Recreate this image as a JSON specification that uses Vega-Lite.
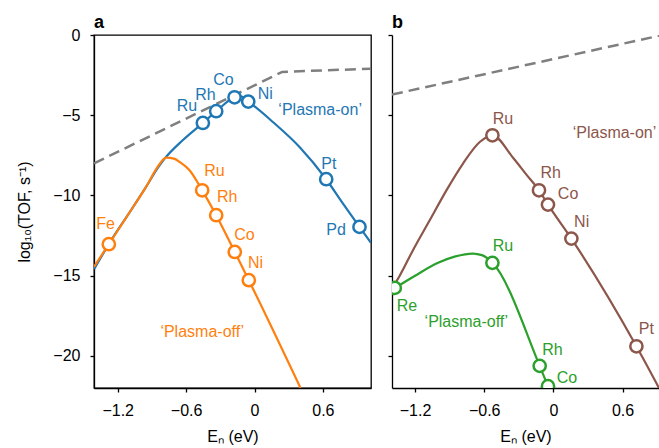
{
  "$schema": "https://vega.github.io/schema/vega-lite/v6.json",
  "padding": {"left": 16, "top": 13, "right": 0, "bottom": 0},
  "background": "white",
  "spacing": 21,
  "bounds": "flush",
  "resolve": {"scale": {"x": "independent", "y": "independent"}},
  "config": {
    "view": {"stroke": "black", "strokeWidth": 1.3},
    "font": "Liberation Sans",
    "axis": {"domainColor": "#000", "domainWidth": 1.3, "tickColor": "#000", "tickWidth": 1.3, "tickSize": 4,
      "labelFont": "Liberation Sans", "labelFontSize": 16, "labelColor": "#000", "labelPadding": 10,
      "titleFont": "Liberation Sans", "titleFontSize": 16, "titleFontWeight": "normal", "titleColor": "#000",
      "grid": false, "labelFlush": false, "labelOverlap": false}
  },
  "datasets": {
    "curves": [
      {"k": "lim_a", "x": -1.408, "y": -8.0}, {"k": "lim_a", "x": 0.243, "y": -2.3}, {"k": "lim_a", "x": 1.022, "y": -2.1},
      {"k": "lim_b", "x": -1.40, "y": -3.71}, {"k": "lim_b", "x": 0.916, "y": -0.05},
      {"k": "on_a", "x": -1.408, "y": -14.6}, {"k": "on_a", "x": -1.24, "y": -12.6}, {"k": "on_a", "x": -1.10, "y": -11.1},
      {"k": "on_a", "x": -0.95, "y": -9.45}, {"k": "on_a", "x": -0.85, "y": -8.3}, {"k": "on_a", "x": -0.79, "y": -7.72},
      {"k": "on_a", "x": -0.63, "y": -6.56}, {"k": "on_a", "x": -0.453, "y": -5.48}, {"k": "on_a", "x": -0.336, "y": -4.75},
      {"k": "on_a", "x": -0.175, "y": -3.88}, {"k": "on_a", "x": -0.13, "y": -3.8}, {"k": "on_a", "x": -0.055, "y": -4.15},
      {"k": "on_a", "x": 0.161, "y": -5.42}, {"k": "on_a", "x": 0.395, "y": -6.98}, {"k": "on_a", "x": 0.629, "y": -8.99},
      {"k": "on_a", "x": 0.775, "y": -10.5}, {"k": "on_a", "x": 0.921, "y": -11.96}, {"k": "on_a", "x": 1.022, "y": -12.95},
      {"k": "off_a", "x": -1.408, "y": -14.45}, {"k": "off_a", "x": -1.278, "y": -13.04}, {"k": "off_a", "x": -1.10, "y": -11.1},
      {"k": "off_a", "x": -0.95, "y": -9.45}, {"k": "off_a", "x": -0.85, "y": -8.22}, {"k": "off_a", "x": -0.775, "y": -7.64},
      {"k": "off_a", "x": -0.70, "y": -7.72}, {"k": "off_a", "x": -0.658, "y": -7.91}, {"k": "off_a", "x": -0.57, "y": -8.43},
      {"k": "off_a", "x": -0.459, "y": -9.68}, {"k": "off_a", "x": -0.336, "y": -11.23}, {"k": "off_a", "x": -0.173, "y": -13.52},
      {"k": "off_a", "x": -0.05, "y": -15.28}, {"k": "off_a", "x": 0.404, "y": -22.0},
      {"k": "on_b", "x": -1.40, "y": -15.8}, {"k": "on_b", "x": -1.333, "y": -15.0}, {"k": "on_b", "x": -1.218, "y": -13.41},
      {"k": "on_b", "x": -1.073, "y": -11.55}, {"k": "on_b", "x": -0.928, "y": -9.68}, {"k": "on_b", "x": -0.784, "y": -8.01},
      {"k": "on_b", "x": -0.639, "y": -6.67}, {"k": "on_b", "x": -0.529, "y": -6.25}, {"k": "on_b", "x": -0.35, "y": -7.65},
      {"k": "on_b", "x": -0.234, "y": -8.7}, {"k": "on_b", "x": -0.125, "y": -9.68}, {"k": "on_b", "x": -0.047, "y": -10.57},
      {"k": "on_b", "x": 0.156, "y": -12.69}, {"k": "on_b", "x": 0.72, "y": -19.4}, {"k": "on_b", "x": 0.916, "y": -22.0},
      {"k": "off_b", "x": -1.40, "y": -15.85}, {"k": "off_b", "x": -1.376, "y": -15.76}, {"k": "off_b", "x": -1.2, "y": -15.0},
      {"k": "off_b", "x": -1.0, "y": -14.2}, {"k": "off_b", "x": -0.85, "y": -13.8}, {"k": "off_b", "x": -0.70, "y": -13.62},
      {"k": "off_b", "x": -0.62, "y": -13.72}, {"k": "off_b", "x": -0.529, "y": -14.2}, {"k": "off_b", "x": -0.119, "y": -20.62},
      {"k": "off_b", "x": -0.047, "y": -21.89}, {"k": "off_b", "x": 0.0, "y": -22.7}
    ],
    "points": [
      {"k": "on_a", "el": "Ru", "x": -0.453, "y": -5.48}, {"k": "on_a", "el": "Rh", "x": -0.336, "y": -4.75},
      {"k": "on_a", "el": "Co", "x": -0.175, "y": -3.88}, {"k": "on_a", "el": "Ni", "x": -0.055, "y": -4.15},
      {"k": "on_a", "el": "Pt", "x": 0.629, "y": -8.99}, {"k": "on_a", "el": "Pd", "x": 0.921, "y": -11.96},
      {"k": "off_a", "el": "Fe", "x": -1.278, "y": -13.04}, {"k": "off_a", "el": "Ru", "x": -0.459, "y": -9.68},
      {"k": "off_a", "el": "Rh", "x": -0.336, "y": -11.23}, {"k": "off_a", "el": "Co", "x": -0.173, "y": -13.52},
      {"k": "off_a", "el": "Ni", "x": -0.05, "y": -15.28},
      {"k": "on_b", "el": "Ru", "x": -0.529, "y": -6.25}, {"k": "on_b", "el": "Rh", "x": -0.125, "y": -9.68},
      {"k": "on_b", "el": "Co", "x": -0.047, "y": -10.57}, {"k": "on_b", "el": "Ni", "x": 0.156, "y": -12.69},
      {"k": "on_b", "el": "Pt", "x": 0.72, "y": -19.4},
      {"k": "off_b", "el": "Re", "x": -1.376, "y": -15.76}, {"k": "off_b", "el": "Ru", "x": -0.529, "y": -14.2},
      {"k": "off_b", "el": "Rh", "x": -0.119, "y": -20.62}, {"k": "off_b", "el": "Co", "x": -0.047, "y": -21.89}
    ],
    "labels": [
      {"k": "on_a", "t": "Ru", "x": -0.593, "y": -4.44}, {"k": "on_a", "t": "Rh", "x": -0.43, "y": -3.71},
      {"k": "on_a", "t": "Co", "x": -0.272, "y": -2.82}, {"k": "on_a", "t": "Ni", "x": 0.094, "y": -3.69},
      {"k": "on_a", "t": "‘Plasma-on’", "x": 0.576, "y": -4.69}, {"k": "on_a", "t": "Pt", "x": 0.652, "y": -8.07},
      {"k": "on_a", "t": "Pd", "x": 0.716, "y": -12.13},
      {"k": "off_a", "t": "Fe", "x": -1.307, "y": -11.75}, {"k": "off_a", "t": "Ru", "x": -0.351, "y": -8.47},
      {"k": "off_a", "t": "Rh", "x": -0.24, "y": -10.09}, {"k": "off_a", "t": "Co", "x": -0.088, "y": -12.48},
      {"k": "off_a", "t": "Ni", "x": 0.009, "y": -14.18}, {"k": "off_a", "t": "‘Plasma-off’", "x": -0.459, "y": -18.54},
      {"k": "on_b", "t": "Ru", "x": -0.437, "y": -5.21}, {"k": "on_b", "t": "Rh", "x": -0.023, "y": -8.6},
      {"k": "on_b", "t": "Co", "x": 0.127, "y": -9.94}, {"k": "on_b", "t": "Ni", "x": 0.245, "y": -11.65},
      {"k": "on_b", "t": "Pt", "x": 0.807, "y": -18.3}, {"k": "on_b", "t": "‘Plasma-on’", "x": 0.53, "y": -6.1},
      {"k": "off_b", "t": "Ru", "x": -0.437, "y": -13.17}, {"k": "off_b", "t": "Re", "x": -1.27, "y": -16.9},
      {"k": "off_b", "t": "‘Plasma-off’", "x": -0.755, "y": -17.88}, {"k": "off_b", "t": "Rh", "x": -0.009, "y": -19.64},
      {"k": "off_b", "t": "Co", "x": 0.118, "y": -21.37}
    ],
    "tags": [{"p": "a", "t": "a"}, {"p": "b", "t": "b"}]
  },
  "hconcat": [
    {
      "width": 277, "height": 353,
      "layer": [
        {"data": {"name": "curves"}, "transform": [{"filter": "datum.k === 'lim_a'"}],
          "mark": {"type": "line", "strokeDash": [11, 6], "strokeWidth": 2.5, "color": "#7f7f7f", "clip": true},
          "encoding": {
            "x": {"field": "x", "type": "quantitative", "scale": {"domain": [-1.408, 1.022], "nice": false, "zero": false},
              "axis": {"values": [-1.2, -0.6, 0, 0.6], "labelExpr": "datum.value === 0 ? '0' : format(datum.value, '.1f')", "title": "Eₙ (eV)", "titlePadding": 10}},
            "y": {"field": "y", "type": "quantitative", "scale": {"domain": [-22, 0], "nice": false, "zero": false},
              "axis": {"values": [0, -5, -10, -15, -20], "format": "d", "title": "log₁₀(TOF, s⁻¹)", "titlePadding": 20}}}},
        {"data": {"name": "curves"}, "transform": [{"filter": "datum.k === 'on_a'"}],
          "mark": {"type": "line", "strokeWidth": 2.2, "color": "#1f77b4", "interpolate": "monotone", "clip": true},
          "encoding": {"x": {"field": "x", "type": "quantitative"}, "y": {"field": "y", "type": "quantitative"}}},
        {"data": {"name": "curves"}, "transform": [{"filter": "datum.k === 'off_a'"}],
          "mark": {"type": "line", "strokeWidth": 2.2, "color": "#ff7f0e", "interpolate": "monotone", "clip": true},
          "encoding": {"x": {"field": "x", "type": "quantitative"}, "y": {"field": "y", "type": "quantitative"}}},
        {"data": {"name": "points"}, "transform": [{"filter": "datum.k === 'on_a' || datum.k === 'off_a'"}],
          "mark": {"type": "point", "shape": "circle", "filled": false, "fill": "white", "fillOpacity": 1, "opacity": 1, "size": 150, "strokeWidth": 2.5, "clip": true},
          "encoding": {"x": {"field": "x", "type": "quantitative"}, "y": {"field": "y", "type": "quantitative"},
            "color": {"field": "k", "type": "nominal", "legend": null,
            "scale": {"domain": ["on_a", "off_a", "on_b", "off_b"], "range": ["#1f77b4", "#ff7f0e", "#8c564b", "#2ca02c"]}}}},
        {"data": {"name": "labels"}, "transform": [{"filter": "datum.k === 'on_a' || datum.k === 'off_a'"}],
          "mark": {"type": "text", "font": "Liberation Sans", "fontSize": 16, "align": "center", "baseline": "middle", "clip": true},
          "encoding": {"x": {"field": "x", "type": "quantitative"}, "y": {"field": "y", "type": "quantitative"},
            "text": {"field": "t"}, "color": {"field": "k", "type": "nominal", "legend": null,
            "scale": {"domain": ["on_a", "off_a", "on_b", "off_b"], "range": ["#1f77b4", "#ff7f0e", "#8c564b", "#2ca02c"]}}}},
        {"data": {"name": "tags"}, "transform": [{"filter": "datum.p === 'a'"}],
          "mark": {"type": "text", "font": "Liberation Sans", "fontSize": 18, "fontWeight": "bold", "align": "left", "baseline": "alphabetic", "dy": -7, "color": "#000"},
          "encoding": {"text": {"field": "t"}, "x": {"datum": -1.408, "type": "quantitative"}, "y": {"datum": 0, "type": "quantitative"}}}
      ]
    },
    {
      "width": 267, "height": 353,
      "view": {"stroke": null},
      "layer": [
        {"mark": {"type": "rule", "color": "#000", "strokeWidth": 1.3},
          "encoding": {"y": {"datum": 0, "type": "quantitative", "scale": {"domain": [-22, 0], "nice": false, "zero": false}}}},
        {"data": {"name": "curves"}, "transform": [{"filter": "datum.k === 'lim_b'"}],
          "mark": {"type": "line", "strokeDash": [11, 6], "strokeWidth": 2.5, "color": "#7f7f7f", "clip": true},
          "encoding": {
            "x": {"field": "x", "type": "quantitative", "scale": {"domain": [-1.40, 0.916], "nice": false, "zero": false},
              "axis": {"values": [-1.2, -0.6, 0, 0.6], "labelExpr": "datum.value === 0 ? '0' : format(datum.value, '.1f')", "title": "Eₙ (eV)", "titlePadding": 10}},
            "y": {"field": "y", "type": "quantitative", "axis": {"values": [0, -5, -10, -15, -20], "labels": false, "title": null}}}},
        {"data": {"name": "curves"}, "transform": [{"filter": "datum.k === 'on_b'"}],
          "mark": {"type": "line", "strokeWidth": 2.2, "color": "#8c564b", "interpolate": "monotone", "clip": true},
          "encoding": {"x": {"field": "x", "type": "quantitative"}, "y": {"field": "y", "type": "quantitative"}}},
        {"data": {"name": "curves"}, "transform": [{"filter": "datum.k === 'off_b'"}],
          "mark": {"type": "line", "strokeWidth": 2.2, "color": "#2ca02c", "interpolate": "monotone", "clip": true},
          "encoding": {"x": {"field": "x", "type": "quantitative"}, "y": {"field": "y", "type": "quantitative"}}},
        {"data": {"name": "points"}, "transform": [{"filter": "datum.k === 'on_b' || datum.k === 'off_b'"}],
          "mark": {"type": "point", "shape": "circle", "filled": false, "fill": "white", "fillOpacity": 1, "opacity": 1, "size": 150, "strokeWidth": 2.5, "clip": true},
          "encoding": {"x": {"field": "x", "type": "quantitative"}, "y": {"field": "y", "type": "quantitative"},
            "color": {"field": "k", "type": "nominal", "legend": null,
            "scale": {"domain": ["on_a", "off_a", "on_b", "off_b"], "range": ["#1f77b4", "#ff7f0e", "#8c564b", "#2ca02c"]}}}},
        {"data": {"name": "labels"}, "transform": [{"filter": "datum.k === 'on_b' || datum.k === 'off_b'"}],
          "mark": {"type": "text", "font": "Liberation Sans", "fontSize": 16, "align": "center", "baseline": "middle", "clip": true},
          "encoding": {"x": {"field": "x", "type": "quantitative"}, "y": {"field": "y", "type": "quantitative"},
            "text": {"field": "t"}, "color": {"field": "k", "type": "nominal", "legend": null,
            "scale": {"domain": ["on_a", "off_a", "on_b", "off_b"], "range": ["#1f77b4", "#ff7f0e", "#8c564b", "#2ca02c"]}}}},
        {"data": {"name": "tags"}, "transform": [{"filter": "datum.p === 'b'"}],
          "mark": {"type": "text", "font": "Liberation Sans", "fontSize": 18, "fontWeight": "bold", "align": "left", "baseline": "alphabetic", "dy": -7, "color": "#000"},
          "encoding": {"text": {"field": "t"}, "x": {"datum": -1.40, "type": "quantitative"}, "y": {"datum": 0, "type": "quantitative"}}}
      ]
    }
  ]
}
